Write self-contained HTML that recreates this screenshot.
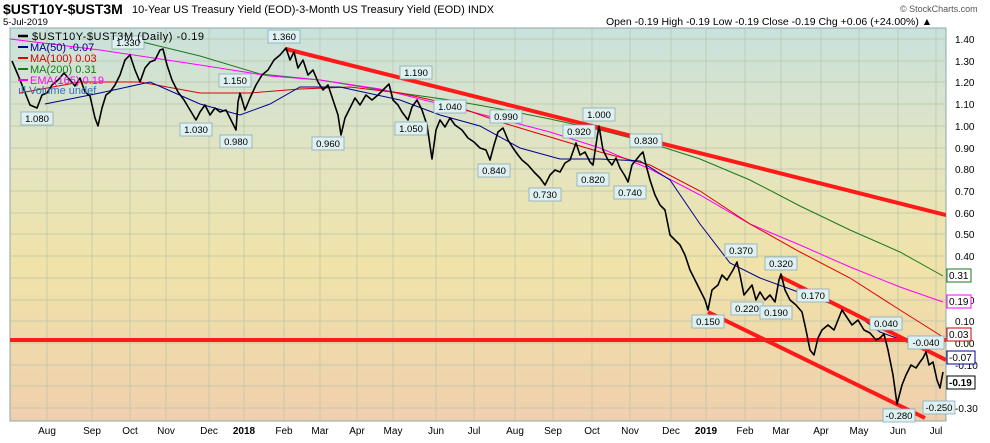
<!DOCTYPE html>
<html><head><meta charset="utf-8"><style>
body{margin:0;background:#fff;width:990px;height:438px;overflow:hidden;font-family:"Liberation Sans",sans-serif}
svg text{font-family:"Liberation Sans",sans-serif}
</style></head><body>
<svg width="990" height="438" viewBox="0 0 990 438" xmlns="http://www.w3.org/2000/svg">
<defs>
<linearGradient id="bg" x1="0" y1="0" x2="0" y2="1">
<stop offset="0" stop-color="#c9e2dc"/>
<stop offset="0.35" stop-color="#e4e4bf"/>
<stop offset="0.6" stop-color="#f0e3a8"/>
<stop offset="1" stop-color="#f0cfae"/>
</linearGradient>
<clipPath id="c"><rect x="10" y="28" width="936" height="393"/></clipPath>
</defs>
<text x="3" y="14" font-size="14" font-weight="bold">$UST10Y-$UST3M</text>
<text x="132" y="13" font-size="11">10-Year US Treasury Yield (EOD)-3-Month US Treasury Yield (EOD)  INDX</text>
<text x="3" y="25" font-size="9.5">5-Jul-2019</text>
<text x="606" y="25" font-size="10.5">Open -0.19  High -0.19  Low -0.19  Close -0.19  Chg +0.06 (+24.00%) ▲</text>
<text x="900" y="12" font-size="9" fill="#555">© StockCharts.com</text>
<rect x="10" y="28" width="936" height="393" fill="url(#bg)" stroke="#8aa" stroke-width="1"/>
<g stroke="#b8c4a8" stroke-width="0.7" clip-path="url(#c)">
<line x1="10" x2="946" y1="39" y2="39"/><line x1="10" x2="946" y1="61" y2="61"/><line x1="10" x2="946" y1="82" y2="82"/><line x1="10" x2="946" y1="104" y2="104"/><line x1="10" x2="946" y1="126" y2="126"/><line x1="10" x2="946" y1="148" y2="148"/><line x1="10" x2="946" y1="169" y2="169"/><line x1="10" x2="946" y1="191" y2="191"/><line x1="10" x2="946" y1="213" y2="213"/><line x1="10" x2="946" y1="234" y2="234"/><line x1="10" x2="946" y1="256" y2="256"/><line x1="10" x2="946" y1="278" y2="278"/><line x1="10" x2="946" y1="300" y2="300"/><line x1="10" x2="946" y1="321" y2="321"/><line x1="10" x2="946" y1="343" y2="343"/><line x1="10" x2="946" y1="365" y2="365"/><line x1="10" x2="946" y1="386" y2="386"/><line x1="10" x2="946" y1="408" y2="408"/>
<line y1="28" y2="421" x1="47" x2="47"/><line y1="28" y2="421" x1="92" x2="92"/><line y1="28" y2="421" x1="130" x2="130"/><line y1="28" y2="421" x1="166" x2="166"/><line y1="28" y2="421" x1="209" x2="209"/><line y1="28" y2="421" x1="244" x2="244"/><line y1="28" y2="421" x1="284" x2="284"/><line y1="28" y2="421" x1="320" x2="320"/><line y1="28" y2="421" x1="357" x2="357"/><line y1="28" y2="421" x1="393" x2="393"/><line y1="28" y2="421" x1="436" x2="436"/><line y1="28" y2="421" x1="474" x2="474"/><line y1="28" y2="421" x1="515" x2="515"/><line y1="28" y2="421" x1="553" x2="553"/><line y1="28" y2="421" x1="592" x2="592"/><line y1="28" y2="421" x1="630" x2="630"/><line y1="28" y2="421" x1="671" x2="671"/><line y1="28" y2="421" x1="706" x2="706"/><line y1="28" y2="421" x1="745" x2="745"/><line y1="28" y2="421" x1="781" x2="781"/><line y1="28" y2="421" x1="821" x2="821"/><line y1="28" y2="421" x1="859" x2="859"/><line y1="28" y2="421" x1="898" x2="898"/><line y1="28" y2="421" x1="936" x2="936"/>
</g>
<g fill="none" clip-path="url(#c)" stroke-width="1">
<polyline stroke="#1a7a1a" points="130,39 200,56 260,74 320,80 400,93 450,100 500,109 550,119 600,130 650,143 700,159 750,180 800,206 850,230 900,252 943,276"/>
<polyline stroke="#ff00ff" points="10,39 100,50 200,65 270,76 320,80 380,89 440,104 500,119 550,132 600,148 650,169 700,195 750,224 800,245 850,267 900,287 943,302"/>
<polyline stroke="#e00000" points="20,93 80,82 140,82 200,93 250,93 300,89 350,87 400,93 450,104 500,122 550,137 600,152 650,165 700,191 750,224 800,252 850,278 900,310 943,337"/>
<polyline stroke="#000090" points="45,104 100,93 150,82 200,104 240,115 270,104 300,87 340,87 400,100 440,115 480,126 520,148 560,159 600,159 640,161 670,180 700,224 730,263 760,278 790,289 820,300 850,310 880,332 910,343 943,358"/>
</g>
<g clip-path="url(#c)">
<line x1="286" y1="49" x2="946" y2="215" stroke="#ff1a1a" stroke-width="4"/>
<line x1="10" y1="340" x2="946" y2="340" stroke="#ff1a1a" stroke-width="4"/>
<line x1="781" y1="277" x2="946" y2="360" stroke="#ff1a1a" stroke-width="4"/>
<line x1="708" y1="312" x2="925" y2="418" stroke="#ff1a1a" stroke-width="4"/>
<polyline fill="none" stroke="#000" stroke-width="1.6" stroke-linejoin="round" points="12,61 18,75 24,90 30,105 37,108 42,95 47,93 52,85 58,80 64,73 70,80 75,86 80,78 85,92 90,96 95,118 98,126 102,108 106,95 110,92 115,85 120,75 125,60 130,55 135,70 140,82 145,68 150,62 155,60 160,50 163,49 167,65 172,80 178,92 184,100 190,110 196,120 200,112 205,105 210,115 215,108 220,112 226,110 231,120 236,130 238,102 240,93 245,110 250,98 256,85 262,75 268,70 274,60 280,55 286,48 290,60 294,52 298,68 303,60 308,75 313,70 318,82 323,90 328,85 333,100 338,115 341,135 345,118 350,108 355,98 360,105 366,95 372,100 378,95 383,90 389,84 393,100 398,105 402,112 408,120 412,107 417,100 422,110 427,125 432,159 436,130 440,120 445,127 450,118 455,125 462,130 468,138 474,142 480,148 486,150 490,160 494,145 498,132 503,128 508,140 513,148 518,155 522,160 528,165 534,172 540,178 545,185 550,175 555,170 560,172 565,163 570,160 576,143 580,155 585,152 590,162 593,165 597,138 599,126 603,150 608,160 612,165 616,158 620,168 625,176 628,182 632,165 636,160 640,155 643,152 646,165 650,180 655,195 660,205 665,210 670,235 675,240 680,245 685,255 690,270 695,280 700,290 705,300 708,310 712,290 718,285 722,275 727,280 733,270 737,262 740,275 744,295 748,290 752,285 756,300 760,292 765,300 770,295 775,302 779,280 781,274 785,290 790,300 796,305 802,312 806,330 810,350 814,355 818,338 822,330 828,325 834,330 838,320 842,310 846,316 852,325 858,320 864,330 870,333 876,340 880,338 884,334 888,350 893,375 897,404 902,385 906,375 911,365 916,368 920,362 923,358 926,352 929,365 933,362 937,380 940,388 943,372"/>
</g>
<g font-size="9.5" text-anchor="middle">
<g fill="#dff0f0" stroke="#8ab" stroke-width="0.8">
<rect x="21" y="112" width="32" height="13"/><rect x="112" y="36" width="32" height="13"/><rect x="268" y="30" width="32" height="13"/><rect x="219" y="74" width="32" height="13"/><rect x="180" y="123" width="32" height="13"/><rect x="220" y="135" width="32" height="13"/><rect x="312" y="137" width="32" height="13"/><rect x="400" y="66" width="32" height="13"/><rect x="395" y="122" width="32" height="13"/><rect x="434" y="100" width="32" height="13"/><rect x="490" y="110" width="32" height="13"/><rect x="478" y="164" width="32" height="13"/><rect x="529" y="188" width="32" height="13"/><rect x="583" y="108" width="32" height="13"/><rect x="563" y="125" width="32" height="13"/><rect x="577" y="173" width="32" height="13"/><rect x="614" y="186" width="32" height="13"/><rect x="630" y="134" width="32" height="13"/><rect x="692" y="315" width="32" height="13"/><rect x="725" y="244" width="32" height="13"/><rect x="731" y="302" width="32" height="13"/><rect x="765" y="257" width="32" height="13"/><rect x="760" y="306" width="32" height="13"/><rect x="797" y="289" width="32" height="13"/><rect x="870" y="317" width="32" height="13"/><rect x="908" y="336" width="36" height="13"/><rect x="883" y="409" width="32" height="13"/><rect x="923" y="401" width="32" height="13"/>
</g>
<text x="37" y="122">1.080</text><text x="128" y="46">1.330</text><text x="284" y="40">1.360</text><text x="235" y="84">1.150</text><text x="196" y="133">1.030</text><text x="236" y="145">0.980</text><text x="328" y="147">0.960</text><text x="416" y="76">1.190</text><text x="411" y="132">1.050</text><text x="450" y="110">1.040</text><text x="506" y="120">0.990</text><text x="494" y="174">0.840</text><text x="545" y="198">0.730</text><text x="599" y="118">1.000</text><text x="579" y="135">0.920</text><text x="593" y="183">0.820</text><text x="630" y="196">0.740</text><text x="646" y="144">0.830</text><text x="708" y="325">0.150</text><text x="741" y="254">0.370</text><text x="747" y="312">0.220</text><text x="781" y="267">0.320</text><text x="776" y="316">0.190</text><text x="813" y="299">0.170</text><text x="886" y="327">0.040</text><text x="926" y="346">-0.040</text><text x="899" y="419">-0.280</text><text x="939" y="411">-0.250</text>
</g>
<g font-size="10" fill="#000">
<text x="955" y="43">1.40</text><text x="955" y="65">1.30</text><text x="955" y="86">1.20</text><text x="955" y="108">1.10</text><text x="955" y="130">1.00</text><text x="955" y="152">0.90</text><text x="955" y="173">0.80</text><text x="955" y="195">0.70</text><text x="955" y="217">0.60</text><text x="955" y="238">0.50</text><text x="955" y="260">0.40</text><text x="955" y="304">0.20</text><text x="955" y="325">0.10</text><text x="955" y="347">0.00</text><text x="955" y="369">-0.10</text><text x="955" y="412">-0.30</text>
</g>
<g font-size="10">
<rect x="947" y="269" width="24" height="13" fill="#fff" stroke="#1a7a1a"/><text x="949" y="279">0.31</text>
<rect x="947" y="295" width="24" height="13" fill="#fff" stroke="#ff00ff"/><text x="949" y="305">0.19</text>
<rect x="947" y="328" width="24" height="13" fill="#fff" stroke="#c00"/><text x="949" y="338">0.03</text>
<rect x="947" y="351" width="28" height="13" fill="#fff" stroke="#000090"/><text x="949" y="361">-0.07</text>
<rect x="947" y="376" width="28" height="13" fill="#fff" stroke="#000"/><text x="949" y="386" font-weight="bold">-0.19</text>
</g>
<g font-size="10" text-anchor="middle">
<text x="47" y="434">Aug</text><text x="92" y="434">Sep</text><text x="130" y="434">Oct</text><text x="166" y="434">Nov</text><text x="209" y="434">Dec</text><text x="244" y="434" font-weight="bold">2018</text><text x="284" y="434">Feb</text><text x="320" y="434">Mar</text><text x="357" y="434">Apr</text><text x="393" y="434">May</text><text x="436" y="434">Jun</text><text x="474" y="434">Jul</text><text x="515" y="434">Aug</text><text x="553" y="434">Sep</text><text x="592" y="434">Oct</text><text x="630" y="434">Nov</text><text x="671" y="434">Dec</text><text x="706" y="434" font-weight="bold">2019</text><text x="745" y="434">Feb</text><text x="781" y="434">Mar</text><text x="821" y="434">Apr</text><text x="859" y="434">May</text><text x="898" y="434">Jun</text><text x="936" y="434">Jul</text>
</g>
<g font-size="11">
<line x1="18" y1="36" x2="28" y2="36" stroke="#000" stroke-width="2.5"/><text x="32" y="40" textLength="172">$UST10Y-$UST3M (Daily) -0.19</text>
<line x1="18" y1="47" x2="28" y2="47" stroke="#000090" stroke-width="2"/><text x="30" y="51" fill="#000090">MA(50) -0.07</text>
<line x1="18" y1="58" x2="28" y2="58" stroke="#e00000" stroke-width="2"/><text x="30" y="62" fill="#e00000">MA(100) 0.03</text>
<line x1="18" y1="69" x2="28" y2="69" stroke="#1a7a1a" stroke-width="2"/><text x="30" y="73" fill="#1a7a1a">MA(200) 0.31</text>
<line x1="18" y1="80" x2="28" y2="80" stroke="#ff00ff" stroke-width="2"/><text x="30" y="84" fill="#ff00ff">EMA(165) 0.19</text>
<text x="18" y="94" fill="#3070c0">ıll Volume undef</text>
</g>
</svg>
</body></html>
